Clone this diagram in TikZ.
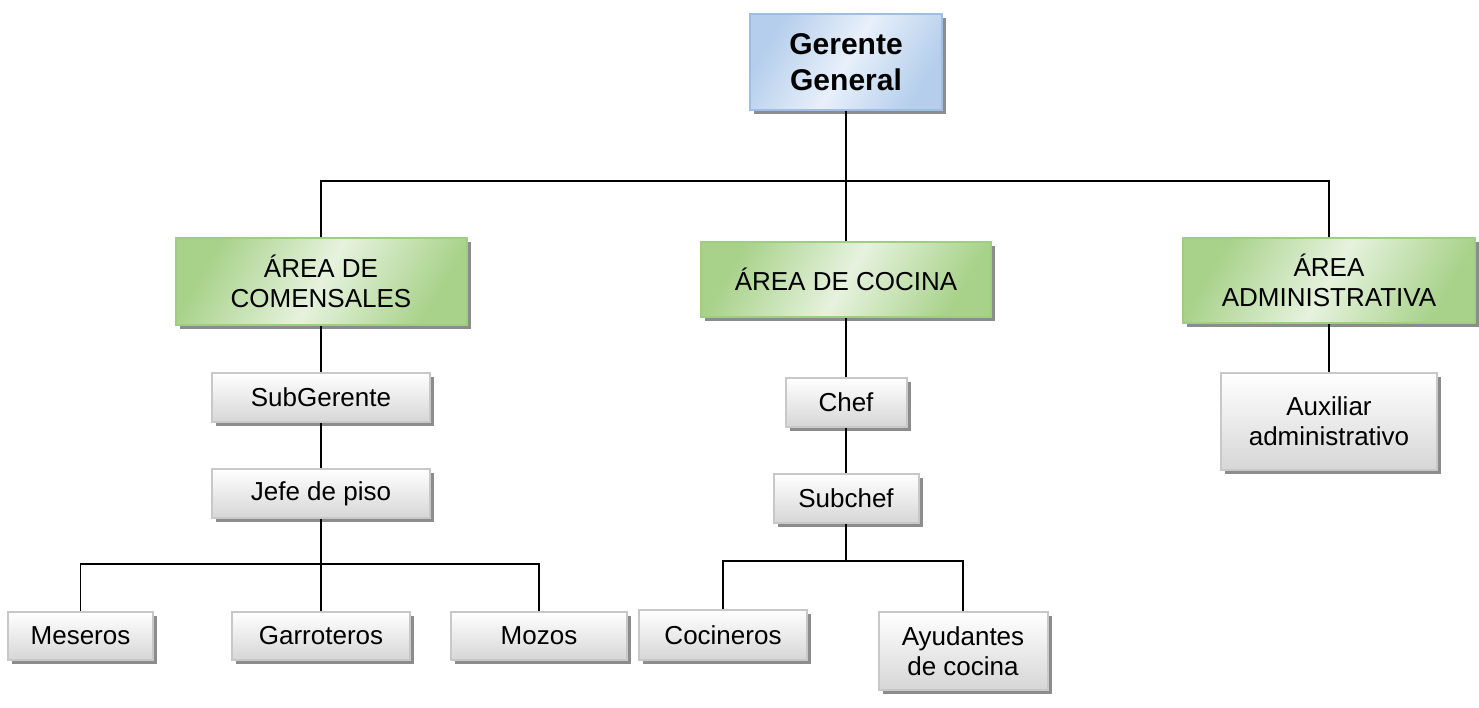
\documentclass[tikz,border=0pt]{standalone}
\usepackage{fontspec}
\setmainfont{Liberation Sans}
\usetikzlibrary{shadows}
\definecolor{blueDark}{RGB}{180,206,236}
\definecolor{bluePale}{RGB}{232,240,250}
\definecolor{blueLine}{RGB}{160,190,226}
\definecolor{greenDark}{RGB}{168,210,138}
\definecolor{greenPale}{RGB}{230,242,222}
\definecolor{greenLine}{RGB}{160,206,128}
\definecolor{grayLine}{RGB}{200,200,200}
\definecolor{grayBot}{RGB}{214,214,214}
\definecolor{shadowCol}{RGB}{140,140,140}
\tikzset{
  basebox/.style={draw, line width=2pt, inner sep=0pt, align=center,
    drop shadow={shadow xshift=4pt, shadow yshift=-4pt, fill=shadowCol, opacity=1},
    font=\fontsize{26}{30}\selectfont},
  topbox/.style={basebox, draw=blueLine, left color=blueDark, right color=blueDark,
    middle color=bluePale, shading angle=60, font=\fontsize{30}{36}\selectfont\bfseries},
  areabox/.style={basebox, draw=greenLine, left color=greenDark, right color=greenDark,
    middle color=greenPale, shading angle=60},
  rolebox/.style={basebox, draw=grayLine, top color=white, bottom color=grayBot},
  conn/.style={draw=black, line width=1.6pt}
}
\begin{document}
\begin{tikzpicture}[x=1pt,y=-1pt]
\useasboundingbox (0,0) rectangle (1479,707);
\coordinate (b1) at (0,181);
\coordinate (b2) at (0,564);
\coordinate (b3) at (0,561);
% connectors
\node[topbox, minimum width=192pt, minimum height=96pt] (gg) at (846,62) {Gerente\\General};
\node[areabox, minimum width=291pt, minimum height=87pt] (com) at (321,281.5) {ÁREA DE\\COMENSALES};
\node[areabox, minimum width=290pt, minimum height=75pt] (coc) at (846,279.5) {ÁREA DE COCINA};
\node[areabox, minimum width=292pt, minimum height=85pt] (adm) at (1329,280.5) {ÁREA\\ADMINISTRATIVA};
\node[rolebox, minimum width=218pt, minimum height=49pt] (sub) at (321,397.5) {SubGerente};
\node[rolebox, minimum width=218pt, minimum height=49pt] (jefe) at (321,493.5) {Jefe de piso};
\node[rolebox, minimum width=145pt, minimum height=48pt] (mes) at (80.5,636) {Meseros};
\node[rolebox, minimum width=178pt, minimum height=48pt] (gar) at (321,636) {Garroteros};
\node[rolebox, minimum width=176pt, minimum height=48pt] (moz) at (539,636) {Mozos};
\node[rolebox, minimum width=121pt, minimum height=49pt] (chef) at (846,402.5) {Chef};
\node[rolebox, minimum width=145pt, minimum height=49pt] (subc) at (846,498.5) {Subchef};
\node[rolebox, minimum width=168pt, minimum height=50pt] (cocn) at (723,635) {Cocineros};
\node[rolebox, minimum width=169pt, minimum height=78pt] (ayu) at (963,651) {Ayudantes\\de cocina};
\node[rolebox, minimum width=216pt, minimum height=97pt] (aux) at (1329,421.5) {Auxiliar\\administrativo};
\draw[conn] (gg.south) -- (coc.north);
\draw[conn] (com.north) -- (com.north |- b1) -- (adm.north |- b1) -- (adm.north);
\draw[conn] (com.south) -- (sub.north);
\draw[conn] (sub.south) -- (jefe.north);
\draw[conn] (jefe.south) -- (jefe.south |- b2);
\draw[conn] (mes.north) -- (mes.north |- b2) -- (moz.north |- b2) -- (moz.north);
\draw[conn] (gar.north) -- (gar.north |- b2);
\draw[conn] (coc.south) -- (chef.north);
\draw[conn] (chef.south) -- (subc.north);
\draw[conn] (subc.south) -- (subc.south |- b3);
\draw[conn] (cocn.north) -- (cocn.north |- b3) -- (ayu.north |- b3) -- (ayu.north);
\draw[conn] (adm.south) -- (aux.north);
\end{tikzpicture}
\end{document}
